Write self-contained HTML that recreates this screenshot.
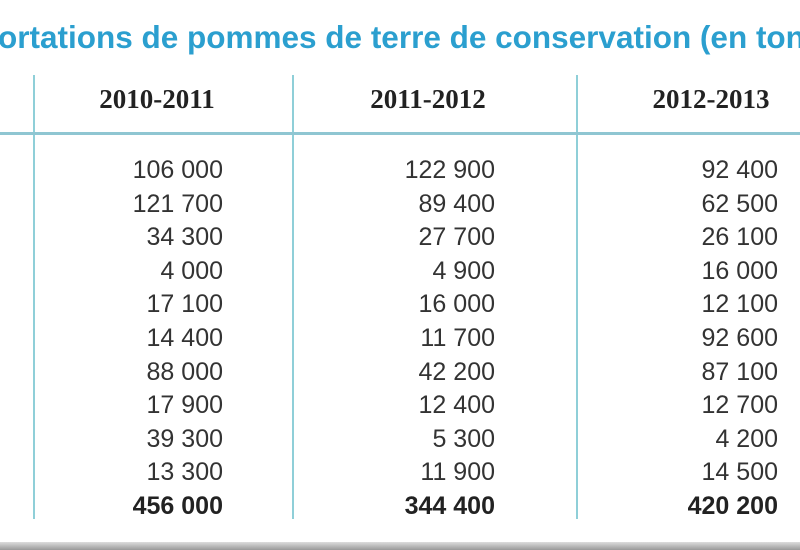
<!DOCTYPE html>
<html><head><meta charset="utf-8"><style>
body{margin:0;width:800px;height:550px;overflow:hidden;background:#fff;position:relative;font-family:"Liberation Sans",sans-serif;}
.tw{position:absolute;left:0;top:19px;width:800px;height:40px;overflow:hidden;}
.t{position:absolute;left:-2px;top:0;white-space:nowrap;color:#2b9fcf;font-weight:bold;font-size:31.5px;}
.v{position:absolute;top:75px;height:444px;width:2px;background:#8fcfd8;}
.h{position:absolute;left:0;width:800px;top:132px;height:3px;background:#8fc6d2;}
.hd{position:absolute;top:84px;font-family:"Liberation Serif",serif;font-weight:bold;font-size:27px;color:#222;width:220px;text-align:center;}
.col{position:absolute;top:154px;text-align:right;font-size:25px;line-height:33.6px;color:#333;}
.col b{color:#222;}
.bar{position:absolute;left:0;top:542px;width:800px;height:8px;background:linear-gradient(#ddd,#999);}
</style></head><body>
<div class="tw"><div class="t">ortations de pommes de terre de conservation (en ton</div></div>
<div class="v" style="left:33px"></div>
<div class="v" style="left:292px"></div>
<div class="v" style="left:576px"></div>
<div class="h"></div>
<div class="hd" style="left:47px">2010-2011</div>
<div class="hd" style="left:318px">2011-2012</div>
<div class="hd" style="left:601px;width:220px">2012-2013</div>
<div class="col" style="right:577px">106 000<br>121 700<br>34 300<br>4 000<br>17 100<br>14 400<br>88 000<br>17 900<br>39 300<br>13 300<br><b>456 000</b></div>
<div class="col" style="right:305px">122 900<br>89 400<br>27 700<br>4 900<br>16 000<br>11 700<br>42 200<br>12 400<br>5 300<br>11 900<br><b>344 400</b></div>
<div class="col" style="right:22px">92 400<br>62 500<br>26 100<br>16 000<br>12 100<br>92 600<br>87 100<br>12 700<br>4 200<br>14 500<br><b>420 200</b></div>
<div class="bar"></div>
</body></html>
